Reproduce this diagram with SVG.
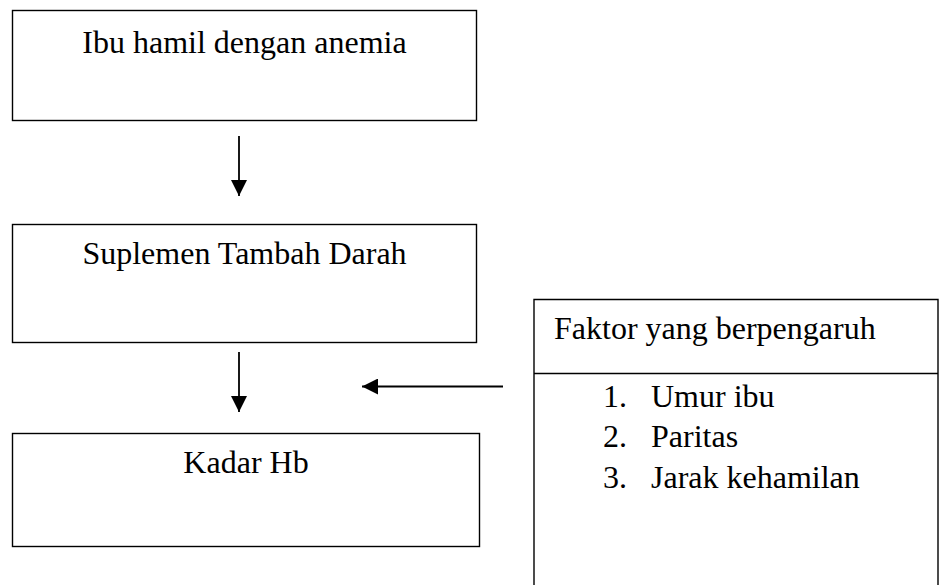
<svg xmlns="http://www.w3.org/2000/svg" width="942" height="585" viewBox="0 0 942 585">
<style>
.box{fill:#fff;stroke:#000;stroke-width:1.4}
.t{font-family:"Liberation Serif","Times New Roman",serif;font-size:32px;fill:#000}
.c{text-anchor:middle}
.ln{stroke:#000;stroke-width:1.8;fill:none}
</style>
<defs>
<marker id="ah" markerWidth="16" markerHeight="16" viewBox="0 0 16 16" refX="16" refY="8" orient="auto" markerUnits="userSpaceOnUse">
<path d="M0,0 L16,8 L0,16 Z" fill="#000"/>
</marker>
</defs>
<rect width="942" height="585" fill="#fff"/>
<g id="node-ibu">
<rect class="box" x="12.5" y="10.5" width="464" height="110"/>
<text class="t c" x="244.5" y="53">Ibu hamil dengan anemia</text>
</g>
<g id="node-suplemen">
<rect class="box" x="12.5" y="224.5" width="464" height="118"/>
<text class="t c" x="244.5" y="264">Suplemen Tambah Darah</text>
</g>
<g id="node-kadar">
<rect class="box" x="12.5" y="433.5" width="467" height="113"/>
<text class="t c" x="246" y="473">Kadar Hb</text>
</g>
<g id="node-faktor">
<path class="box" d="M534,600 L534,299.5 L938,299.5 L938,600"/>
<line class="ln" x1="534" y1="373.5" x2="938" y2="373.5" style="stroke-width:1.4"/>
<text class="t" x="554" y="339">Faktor yang berpengaruh</text>
<text class="t" x="603" y="407">1.</text>
<text class="t" x="651" y="407">Umur ibu</text>
<text class="t" x="603" y="447">2.</text>
<text class="t" x="651" y="447">Paritas</text>
<text class="t" x="603" y="488">3.</text>
<text class="t" x="651" y="488">Jarak kehamilan</text>
</g>
<g id="connectors">
<line class="ln" x1="239" y1="136" x2="239" y2="196" marker-end="url(#ah)"/>
<line class="ln" x1="239" y1="352" x2="239" y2="412" marker-end="url(#ah)"/>
<line class="ln" x1="503" y1="386.5" x2="362" y2="386.5" marker-end="url(#ah)"/>
</g>
</svg>
